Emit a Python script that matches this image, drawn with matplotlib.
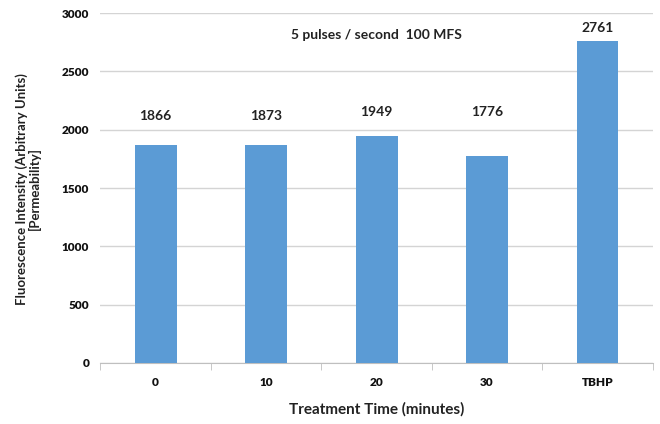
import matplotlib
matplotlib.use('Agg')
import matplotlib.pyplot as plt
import numpy as np

# Treatment groups and measured fluorescence
categories = ['0', '10', '20', '30', 'TBHP']
intensity = [1866, 1873, 1949, 1776, 2761]
y_ticks = [0, 500, 1000, 1500, 2000, 2500, 3000]

plt.rcParams['font.family'] = ['Lato', 'DejaVu Sans']

fig = plt.figure(figsize=(6.6, 4.24), dpi=100)
ax = fig.add_axes([0.152, 0.144, 0.837, 0.825])

x = np.arange(len(categories))
ax.bar(x, intensity, width=0.38, color='#5b9bd5', zorder=3)

# value labels sit at a common height unless the bar reaches above it
for xi, v in zip(x, intensity):
    ly = max(v + 110, 2120 if xi < 2 else 2150)
    ax.text(xi, ly, f'{v}', ha='center', va='center', fontsize=10,
            fontweight='bold', color='#222222')

ax.text(2.0, 2810, '5 pulses / second  100 MFS', ha='center', va='center',
        fontsize=10, fontweight='bold', color='#222222')

ax.set_xlim(-0.5, len(categories) - 0.5)
ax.set_ylim(0, 3000)
ax.set_yticks(y_ticks)
ax.set_xticks(x)
ax.set_xticklabels(categories)
ax.set_xticks(np.arange(-0.5, len(categories)), minor=True)

ax.grid(axis='y', color='#d4d4d4', linewidth=1.0, zorder=0)
for s in ['left', 'right', 'top']:
    ax.spines[s].set_visible(False)
ax.spines['bottom'].set_color('#bfbfbf')
ax.tick_params(axis='y', length=0, pad=8, labelsize=8.5, labelcolor='#111111')
ax.tick_params(axis='x', which='major', length=0, pad=10, labelsize=8.5,
               labelcolor='#111111')
ax.tick_params(axis='x', which='minor', length=5, color='#bfbfbf')
for lab in ax.get_xticklabels() + ax.get_yticklabels():
    lab.set_fontweight('heavy')

ax.set_xlabel('Treatment Time (minutes)', fontsize=11, fontweight='bold',
              labelpad=10, color='#222222')
# two-line y title, centred line by line
fig.text(0.043, 0.555, 'Fluorescence Intensity (Arbitrary Units)\n[Permeability]',
         rotation=90, ha='center', va='center', multialignment='center',
         fontsize=9.5, fontweight='bold', color='#222222', linespacing=1.0)

fig.savefig('out.png', dpi=100)
